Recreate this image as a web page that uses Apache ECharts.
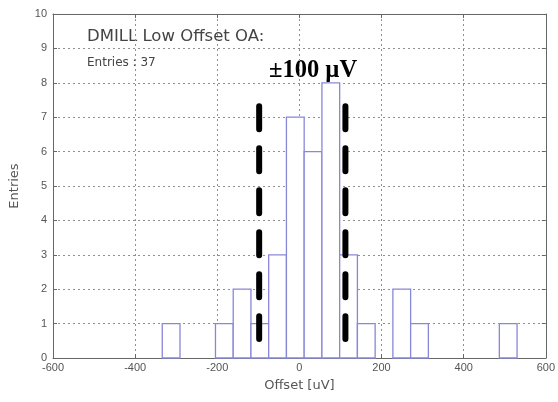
<!DOCTYPE html>
<html>
<head>
<meta charset="utf-8">
<script src="https://cdn.jsdelivr.net/npm/echarts@6/dist/echarts.min.js"></script>
<style>
  html, body { margin: 0; padding: 0; background: #fff; }
  #chart { width: 558px; height: 402px; }
</style>
</head>
<body>
<div id="chart"></div>
<script>
// histogram: 20 bins between data min and max
const binStart = -334
const binWidth = 43.2
const counts = [1, 0, 0, 1, 2, 1, 3, 7, 6, 8, 3, 1, 0, 2, 1, 0, 0, 0, 0, 1]

// ±100 uV markers (x position, y from top to bottom)
const markerX = [-98, 112]
const markerY = [7.32, 0.55]

const bins = counts.map((c, i) => [binStart + i * binWidth, binStart + (i + 1) * binWidth, c])
  .filter(d => d[2] > 0)

const chart = echarts.init(document.getElementById('chart'))

const gridColor = '#909090'
const frame = { show: true, onZero: false, lineStyle: { color: '#666', width: 1 } }
const ticks = { show: true, inside: true, length: 4, lineStyle: { color: '#666' } }
const labelStyle = { color: '#555', fontSize: 11, fontFamily: 'Liberation Sans' }
const titleStyle = { color: '#555', fontSize: 13, fontFamily: 'DejaVu Sans' }

const option = {
  animation: false,
  grid: { left: 52, right: 11, top: 14, bottom: 44 },
  xAxis: [
    {
      type: 'value', min: -600, max: 600, interval: 200,
      name: 'Offset [uV]', nameLocation: 'middle', nameGap: 21,
      nameTextStyle: titleStyle,
      axisLine: frame,
      axisTick: ticks,
      axisLabel: Object.assign({ margin: 4 }, labelStyle),
      splitLine: { show: true, lineStyle: { color: gridColor, type: [2, 3], width: 1 } }
    },
    {
      type: 'value', min: -600, max: 600, interval: 200, position: 'top',
      axisLine: frame,
      axisTick: ticks,
      axisLabel: { show: false },
      splitLine: { show: false }
    }
  ],
  yAxis: [
    {
      type: 'value', min: 0, max: 10, interval: 1,
      name: 'Entries', nameLocation: 'middle', nameGap: 32,
      nameTextStyle: titleStyle,
      axisLine: frame,
      axisTick: ticks,
      axisLabel: Object.assign({ margin: 6 }, labelStyle),
      splitLine: { show: true, lineStyle: { color: gridColor, type: [2, 3], width: 1 } }
    },
    {
      type: 'value', min: 0, max: 10, interval: 1, position: 'right',
      axisLine: frame,
      axisTick: ticks,
      axisLabel: { show: false },
      splitLine: { show: false }
    }
  ],
  series: [
    {
      type: 'custom',
      data: bins,
      encode: { x: [0, 1], y: 2 },
      renderItem: function (params, api) {
        const p0 = api.coord([api.value(0), api.value(2)])
        const p1 = api.coord([api.value(1), 0])
        return {
          type: 'rect',
          shape: { x: p0[0], y: p0[1], width: p1[0] - p0[0], height: p1[1] - p0[1] },
          style: { fill: '#fff', stroke: '#8888d8', lineWidth: 1.3 }
        }
      },
      z: 3
    },
    ...markerX.map(x => ({
      type: 'line',
      data: [[x, markerY[0]], [x, markerY[1]]],
      symbol: 'none',
      lineStyle: { color: '#000', width: 6, type: [23, 19], cap: 'round' },
      z: 5
    }))
  ],
  graphic: [
    {
      type: 'text', left: 87, top: 28,
      style: { text: 'DMILL Low Offset OA:', fill: '#444', fontSize: 16.5, fontFamily: 'DejaVu Sans' }
    },
    {
      type: 'text', left: 87, top: 57,
      style: { text: 'Entries : 37', fill: '#444', fontSize: 12, fontFamily: 'DejaVu Sans' }
    },
    {
      type: 'text', left: 269, top: 58,
      style: { text: '±100 µV', fill: '#000', fontSize: 24.5, fontWeight: 'bold', fontFamily: 'Liberation Serif' }
    }
  ]
}

chart.setOption(option)
</script>
</body>
</html>
